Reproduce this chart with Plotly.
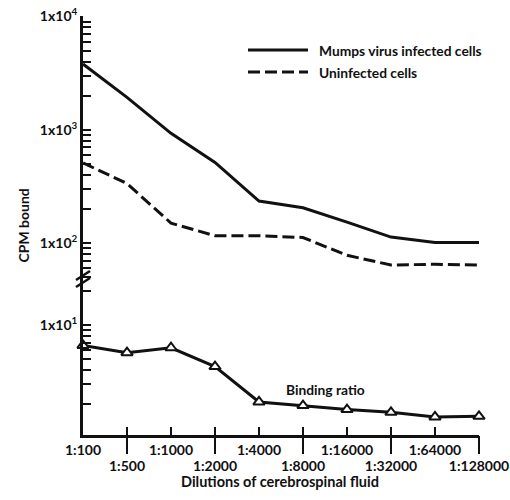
import plotly.graph_objects as go
import math

# ---- data ----
dilutions = ["1:100", "1:500", "1:1000", "1:2000", "1:4000",
             "1:8000", "1:16000", "1:32000", "1:64000", "1:128000"]
mumps_cpm = [3800, 1930, 930, 515, 235, 205, 153, 113, 101, 101]
uninfected_cpm = [510, 335, 150, 116, 116, 112, 78, 64, 65, 64]
binding_ratio = [6.6, 5.7, 6.3, 4.3, 2.1, 1.95, 1.8, 1.7, 1.55, 1.57]

series_names = ["Mumps virus infected cells", "Uninfected cells", "Binding ratio"]
y_title = "CPM bound"
x_title = "Dilutions of cerebrospinal fluid"
decade_labels = {1: "1x10<sup>1</sup>", 2: "1x10<sup>2</sup>",
                 3: "1x10<sup>3</sup>", 4: "1x10<sup>4</sup>"}

xs = list(range(len(dilutions)))

FONT = "Lato"
BLACK = "#111111"

# ---- geometry (pixels; body margin removed via post_script) ----
W, H = 510, 500
plot_left, plot_right, plot_top, plot_bottom = 83, 479, 16, 435
L, T = plot_left, plot_top
R, B = W - plot_right, H - plot_bottom
PW, PH = plot_right - plot_left, plot_bottom - plot_top
break_px = 280
split = (plot_bottom - break_px) / PH

upper_range = [1.674, 4.004]
lower_range = [0.031, 1.396]


def log_ticks(lo, hi):
    vals, text = [], []
    for e in range(0, 5):
        for k in range(1, 10):
            v = k * 10 ** e
            lv = math.log10(v)
            if lo - 1e-9 <= lv <= hi + 1e-9:
                vals.append(v)
                text.append(decade_labels.get(e, "") if k == 1 else "")
    return vals, text


uv, ut = log_ticks(*upper_range)
lv, lt = log_ticks(*lower_range)


def px2paper(px, py):
    return (px - plot_left) / PW, (plot_bottom - py) / PH


fig = go.Figure()

fig.add_trace(go.Scatter(x=xs, y=mumps_cpm, mode="lines", name=series_names[0],
                         line=dict(color=BLACK, width=3), xaxis="x", yaxis="y"))
fig.add_trace(go.Scatter(x=xs, y=uninfected_cpm, mode="lines", name=series_names[1],
                         line=dict(color=BLACK, width=3, dash="12px,5px"),
                         xaxis="x", yaxis="y"))
fig.add_trace(go.Scatter(x=xs, y=binding_ratio, mode="lines+markers", name=series_names[2],
                         line=dict(color=BLACK, width=3),
                         marker=dict(symbol="triangle-up", size=10, color="white",
                                     line=dict(color=BLACK, width=2)),
                         xaxis="x", yaxis="y2", cliponaxis=False))
# invisible trace so the second tick-row axis is drawn
fig.add_trace(go.Scatter(x=[xs[0]], y=[binding_ratio[0]], xaxis="x3", yaxis="y2",
                         mode="markers", marker=dict(opacity=0), hoverinfo="skip"))

tickfont = dict(family=FONT, size=14, color=BLACK, weight="bold")
common = dict(showgrid=False, zeroline=False, automargin=False, tickfont=tickfont,
              tickcolor=BLACK, ticklabeloverflow="allow")

row1_text = [d if i % 2 == 0 else "" for i, d in enumerate(dilutions)]

fig.update_layout(
    template="none",
    width=W, height=H,
    margin=dict(l=L, r=R, t=T, b=B, pad=0),
    paper_bgcolor="white", plot_bgcolor="white",
    showlegend=False,
    xaxis=dict(domain=[0, 1], range=[0, 9], anchor="y2",
               tickvals=xs, ticktext=row1_text,
               ticks="inside", ticklen=8, tickwidth=2,
               showline=True, linewidth=3, linecolor=BLACK, **common),
    xaxis3=dict(range=[0, 9], overlaying="x", anchor="y2", side="bottom",
                tickvals=xs[1::2], ticktext=dilutions[1::2],
                ticks="outside", ticklen=18, tickwidth=2,
                showline=False, **common),
    yaxis=dict(type="log", domain=[split, 1], range=upper_range, anchor="x",
               tickvals=uv, ticktext=ut, ticks="inside", ticklen=8, tickwidth=2,
               showline=True, linewidth=3, linecolor=BLACK, **common),
    yaxis2=dict(type="log", domain=[0, split], range=lower_range, anchor="x",
                tickvals=lv, ticktext=lt, ticks="inside", ticklen=8, tickwidth=2,
                showline=True, linewidth=3, linecolor=BLACK, **common),
)

# legend drawn by hand
for i, (ly, dash) in enumerate([(50, "solid"), (72, "12px,5px")]):
    x0, y0 = px2paper(248, ly)
    x1, _ = px2paper(308, ly)
    fig.add_shape(type="line", xref="paper", yref="paper", x0=x0, x1=x1, y0=y0, y1=y0,
                  line=dict(color=BLACK, width=3, dash=dash))
    tx, _ = px2paper(317, ly)
    fig.add_annotation(xref="paper", yref="paper", x=tx, y=y0, text=series_names[i],
                       showarrow=False, xanchor="left", yanchor="middle",
                       font=dict(family=FONT, size=13.8, color=BLACK, weight="bold"))

# break marks on the y axis
for off in (0, 7):
    ax0, ay0 = px2paper(76, 287 - off)
    ax1, ay1 = px2paper(90, 278 - off)
    fig.add_shape(type="line", xref="paper", yref="paper", x0=ax0, y0=ay0, x1=ax1, y1=ay1,
                  line=dict(color=BLACK, width=2.5))

# binding ratio label
fig.add_annotation(xref="x", yref="y2", x=5.5, y=0.43, text=series_names[2],
                   showarrow=False, font=dict(family=FONT, size=13.8, color=BLACK, weight="bold"))

# axis titles
tx, ty = px2paper(12, 226)
fig.add_annotation(xref="paper", yref="paper", x=tx, y=ty, text=y_title, textangle=-90,
                   showarrow=False, font=dict(family=FONT, size=14, color=BLACK, weight="bold"))
tx, ty = px2paper(280, 492)
fig.add_annotation(xref="paper", yref="paper", x=tx, y=ty, text=x_title,
                   showarrow=False, font=dict(family=FONT, size=14.5, color=BLACK, weight="bold"))

fig.write_html("out.html", config={"displayModeBar": False},
               post_script="document.body.style.margin='0px';document.body.style.overflow='hidden';")
